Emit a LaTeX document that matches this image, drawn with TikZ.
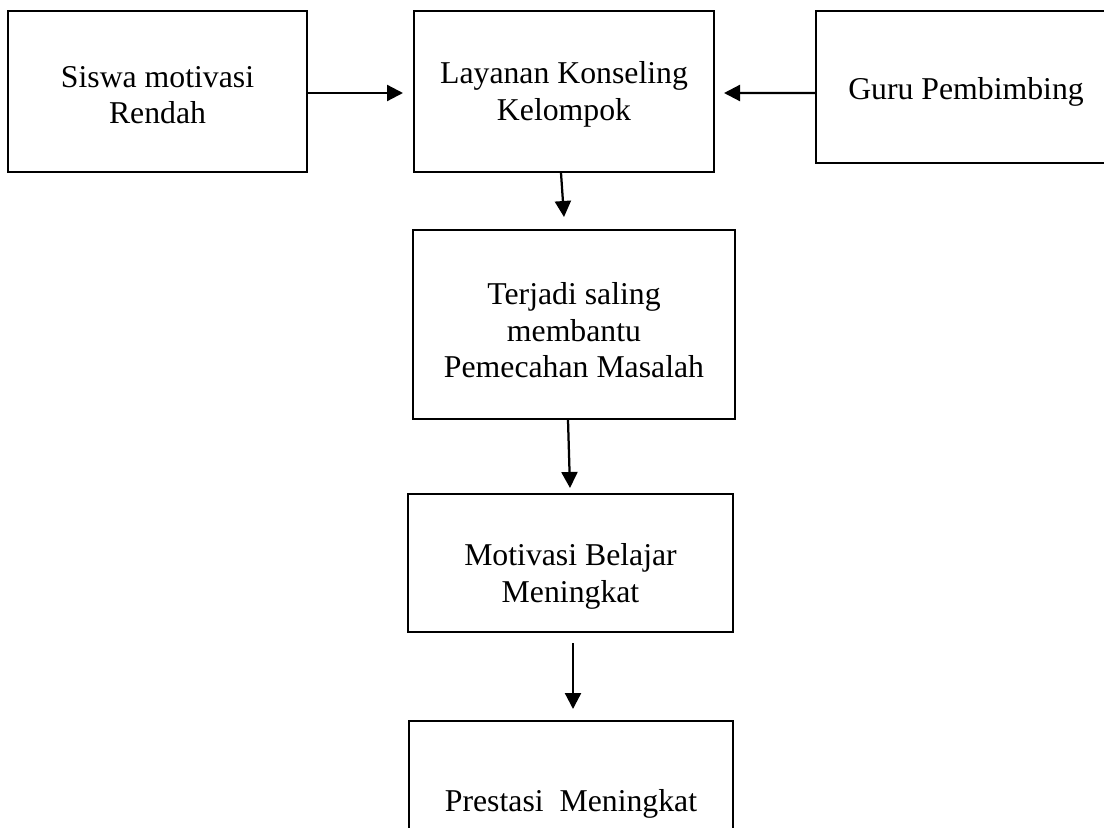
\documentclass[tikz,border=0pt]{standalone}
\usepackage{fontspec}
\setmainfont{Liberation Serif}
\usepackage{tikz}
\usetikzlibrary{arrows.meta}
\usetikzlibrary{positioning}

\tikzset{
	kotak/.style={draw,line width=0.8pt,inner sep=0pt},
	teks/.style={align=center,inner sep=0pt,font=\fontsize{12.7pt}{14.6pt}\selectfont},
	panah/.style={-{Triangle[length=6.4pt,width=6.4pt]},line width=0.9pt}
}

\begin{document}
\begin{tikzpicture}[x=0.4pt,y=-0.4pt]
	\useasboundingbox (0,0) rectangle (1104,827);
	\clip (0,0) rectangle (1104,827);
	\node[kotak,minimum width=119.6pt,minimum height=64.4pt,label={[teks,yshift=-1.4pt]center:Siswa motivasi\\Rendah}] (siswa) at (157.5,91.5) {};
	\node[kotak,minimum width=120pt,minimum height=64.4pt,label={[teks,yshift=-1.2pt]center:Layanan Konseling\\Kelompok}] (layanan) at (564,91.5) {};
	\node[kotak,minimum width=120pt,minimum height=60.8pt,label={[teks,yshift=-2pt]center:Guru Pembimbing}] (guru) at (966,87) {};
	\node[kotak,minimum width=128.8pt,minimum height=75.6pt,label={[teks,yshift=-2.4pt]center:Terjadi saling\\membantu\\Pemecahan Masalah}] (terjadi) at (574,324.5) {};
	\node[kotak,minimum width=130pt,minimum height=55.2pt,label={[teks,yshift=-5.4pt]center:Motivasi Belajar\\Meningkat}] (motivasi) at (570.5,563) {};
	\node[kotak,minimum width=129.6pt,minimum height=63.2pt,label={[teks,yshift=-1.6pt]center:Prestasi\ \ Meningkat}] (prestasi) at (571,800) {};
	\draw[panah,shorten >=4pt] ([yshift=-0.6pt]siswa.east) -- ([yshift=-0.6pt]layanan.west);
	\draw[panah,shorten >=3.6pt] ([yshift=-2.4pt]guru.west) -- ([yshift=-0.6pt]layanan.east);
	\draw[panah] ([xshift=-1.2pt]layanan.south) -- ([xshift=-4pt,yshift=4.8pt]terjadi.north);
	\draw[panah] ([xshift=-2.4pt]terjadi.south) -- ([xshift=-0.2pt,yshift=2pt]motivasi.north);
	\draw[panah] ([xshift=1pt,yshift=-4pt]motivasi.south) -- ([xshift=0.8pt,yshift=4.4pt]prestasi.north);
\end{tikzpicture}
\end{document}
